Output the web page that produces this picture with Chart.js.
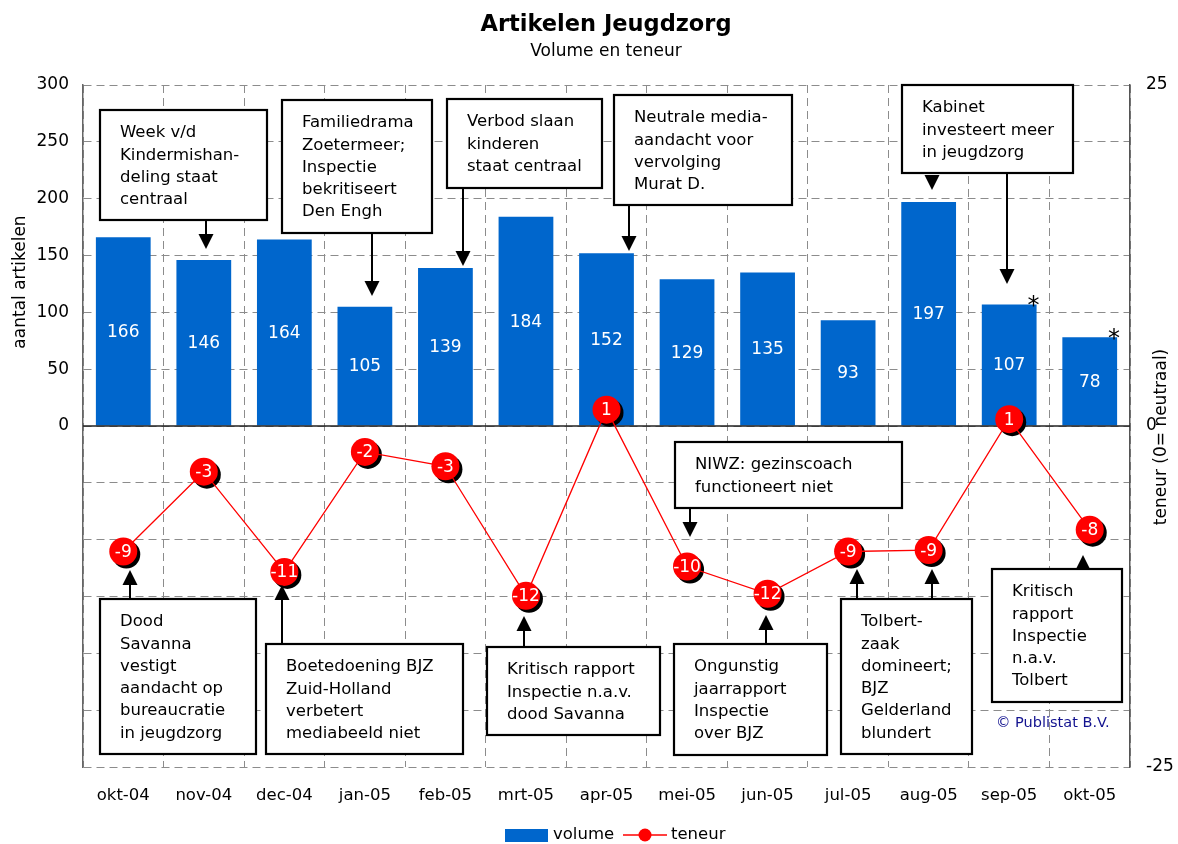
<!DOCTYPE html>
<html lang="nl">
<head>
<meta charset="UTF-8">
<title>Artikelen Jeugdzorg</title>
<script src="https://cdn.jsdelivr.net/npm/chart.js@4.4.0/dist/chart.umd.min.js"></script>
<style>
    html, body { margin: 0; padding: 0; background: #fff; }
    #wrap { width: 1178px; height: 844px; position: relative; }
</style>
</head>
<body>
<div id="wrap"><canvas id="chart"></canvas></div>
<script>
    const months = ['okt-04', 'nov-04', 'dec-04', 'jan-05', 'feb-05', 'mrt-05', 'apr-05',
                    'mei-05', 'jun-05', 'jul-05', 'aug-05', 'sep-05', 'okt-05'];
    const volume = [166, 146, 164, 105, 139, 184, 152, 129, 135, 93, 197, 107, 78];
    const teneur = [-9.2, -3.35, -10.7, -1.9, -2.95, -12.45, 1.2, -10.3, -12.3, -9.2, -9.1, 0.5, -7.6];
    const teneurLabels = ['-9', '-3', '-11', '-2', '-3', '-12', '1', '-10', '-12', '-9', '-9', '1', '-8'];
    const footnotes = ['', '', '', '', '', '', '', '', '', '', '', '*', '*'];
    const volumeTicks = [0, 50, 100, 150, 200, 250, 300];
    const teneurTicks = [-25, 0, 25];

    const FONT = "'DejaVu Sans', Verdana, sans-serif";
    const BLUE = '#0066cc';
    const RED = '#ff0000';

    // callout boxes: [x, y, w, h] in canvas pixels, arrows point at the marks
    const callouts = [
        { lines: ['Week v/d', 'Kindermishan-', 'deling staat', 'centraal'], box: [100, 110, 167, 110],
          arrows: [{ x: 206, from: 220, to: 249 }] },
        { lines: ['Familiedrama', 'Zoetermeer;', 'Inspectie', 'bekritiseert', 'Den Engh'], box: [282, 100, 150, 133],
          arrows: [{ x: 372, from: 233, to: 296 }] },
        { lines: ['Verbod slaan', 'kinderen', 'staat centraal'], box: [447, 99, 155, 89],
          arrows: [{ x: 463, from: 188, to: 266 }] },
        { lines: ['Neutrale media-', 'aandacht voor', 'vervolging', 'Murat D.'], box: [614, 95, 178, 110],
          arrows: [{ x: 629, from: 205, to: 251 }] },
        { lines: ['Kabinet', 'investeert meer', 'in jeugdzorg'], box: [902, 85, 171, 88],
          arrows: [{ x: 932, from: 175, to: 190 }, { x: 1007, from: 173, to: 284 }] },
        { lines: ['NIWZ: gezinscoach', 'functioneert niet'], box: [675, 442, 227, 66],
          arrows: [{ x: 690, from: 508, to: 537 }] },
        { lines: ['Dood', 'Savanna', 'vestigt', 'aandacht op', 'bureaucratie', 'in jeugdzorg'], box: [100, 599, 156, 155],
          arrows: [{ x: 130, from: 599, to: 570 }] },
        { lines: ['Boetedoening BJZ', 'Zuid-Holland', 'verbetert', 'mediabeeld niet'], box: [266, 644, 197, 110],
          arrows: [{ x: 282, from: 644, to: 585 }] },
        { lines: ['Kritisch rapport', 'Inspectie n.a.v.', 'dood Savanna'], box: [487, 647, 173, 88],
          arrows: [{ x: 524, from: 647, to: 616 }] },
        { lines: ['Ongunstig', 'jaarrapport', 'Inspectie', 'over BJZ'], box: [674, 644, 153, 111],
          arrows: [{ x: 766, from: 644, to: 615 }] },
        { lines: ['Tolbert-', 'zaak', 'domineert;', 'BJZ', 'Gelderland', 'blundert'], box: [841, 599, 131, 155],
          arrows: [{ x: 857, from: 599, to: 569 }, { x: 932, from: 599, to: 569 }] },
        { lines: ['Kritisch', 'rapport', 'Inspectie', 'n.a.v.', 'Tolbert'], box: [992, 569, 130, 133],
          arrows: [{ x: 1083, from: 569, to: 555 }] }
    ];

    function drawArrow(ctx, x, from, to) {
        const dir = to > from ? 1 : -1;
        const head = 15;
        ctx.lineWidth = 2;
        if (Math.abs(to - from) > head) {
            ctx.beginPath();
            ctx.moveTo(x, from);
            ctx.lineTo(x, to - dir * head);
            ctx.stroke();
        }
        ctx.beginPath();
        ctx.moveTo(x - 7.5, to - dir * head);
        ctx.lineTo(x + 7.5, to - dir * head);
        ctx.lineTo(x, to);
        ctx.closePath();
        ctx.fill();
    }

    const decorations = {
        id: 'decorations',
        beforeDatasetDraw(chart, args) {
            if (args.index !== 1) return;
            const ctx = chart.ctx;
            const area = chart.chartArea;
            const y0 = chart.scales.y.getPixelForValue(0);
            ctx.save();
            // solid zero line
            ctx.strokeStyle = '#222';
            ctx.lineWidth = 1.5;
            ctx.beginPath();
            ctx.moveTo(area.left, y0);
            ctx.lineTo(area.right, y0);
            ctx.stroke();
            // marker shadows
            ctx.fillStyle = '#000';
            args.meta.data.forEach(pt => {
                ctx.beginPath();
                ctx.arc(pt.x + 3, pt.y + 3, 14, 0, Math.PI * 2);
                ctx.fill();
            });
            ctx.restore();
        },
        afterDatasetDraw(chart, args) {
            const ctx = chart.ctx;
            ctx.save();
            ctx.textAlign = 'center';
            if (args.index === 0) {
                args.meta.data.forEach((bar, i) => {
                    ctx.fillStyle = '#fff';
                    ctx.font = '17px ' + FONT;
                    ctx.textBaseline = 'middle';
                    ctx.fillText(String(volume[i]), bar.x, (bar.y + bar.base) / 2 + 1);
                    if (footnotes[i]) {
                        ctx.fillStyle = '#000';
                        ctx.font = '24px ' + FONT;
                        ctx.textBaseline = 'alphabetic';
                        ctx.fillText(footnotes[i], bar.x + bar.width / 2 - 3, bar.y + 9);
                    }
                });
            } else {
                ctx.fillStyle = '#fff';
                ctx.font = '17px ' + FONT;
                ctx.textBaseline = 'middle';
                args.meta.data.forEach((pt, i) => {
                    ctx.fillText(teneurLabels[i], pt.x, pt.y + 1);
                });
            }
            ctx.restore();
        },
        afterDraw(chart) {
            const ctx = chart.ctx;
            ctx.save();
            ctx.fillStyle = '#000';
            ctx.textAlign = 'center';
            ctx.textBaseline = 'alphabetic';
            ctx.font = 'bold 22.5px ' + FONT;
            ctx.fillText('Artikelen Jeugdzorg', 606, 31);
            ctx.font = '17px ' + FONT;
            ctx.fillText('Volume en teneur', 606, 56);

            // axis titles
            ctx.textBaseline = 'middle';
            ctx.save();
            ctx.translate(21, 282);
            ctx.rotate(-Math.PI / 2);
            ctx.fillText('aantal artikelen', 0, 0);
            ctx.restore();
            ctx.save();
            ctx.translate(1162, 437);
            ctx.rotate(-Math.PI / 2);
            ctx.fillText('teneur (0= neutraal)', 0, 0);
            ctx.restore();

            // callouts
            ctx.textAlign = 'left';
            ctx.font = '16.5px ' + FONT;
            callouts.forEach(c => {
                const [x, y, w, h] = c.box;
                ctx.fillStyle = '#fff';
                ctx.fillRect(x, y, w, h);
                ctx.strokeStyle = '#000';
                ctx.lineWidth = 2.2;
                ctx.strokeRect(x, y, w, h);
                ctx.fillStyle = '#000';
                c.lines.forEach((line, i) => ctx.fillText(line, x + 20, y + 23 + i * 22.3));
                c.arrows.forEach(a => drawArrow(ctx, a.x, a.from, a.to));
            });

            ctx.fillStyle = '#12128f';
            ctx.font = '14.5px ' + FONT;
            ctx.fillText('\u00a9 Publistat B.V.', 996, 723);

            // legend
            ctx.fillStyle = BLUE;
            ctx.fillRect(505, 829, 43, 13);
            ctx.fillStyle = '#000';
            ctx.font = '16.5px ' + FONT;
            ctx.fillText('volume', 553, 835);
            ctx.strokeStyle = RED;
            ctx.lineWidth = 1.3;
            ctx.beginPath();
            ctx.moveTo(623, 835);
            ctx.lineTo(667, 835);
            ctx.stroke();
            ctx.fillStyle = RED;
            ctx.beginPath();
            ctx.arc(645, 835, 6.5, 0, Math.PI * 2);
            ctx.fill();
            ctx.fillStyle = '#000';
            ctx.fillText('teneur', 671, 835);
            ctx.restore();
        }
    };

    Chart.defaults.font.family = FONT;
    Chart.defaults.color = '#000';

    new Chart(document.getElementById('chart'), {
        data: {
            labels: months,
            datasets: [{
                type: 'bar',
                label: 'volume',
                data: volume,
                yAxisID: 'y',
                backgroundColor: BLUE,
                barPercentage: 0.68,
                categoryPercentage: 1.0,
                order: 1
            }, {
                type: 'line',
                label: 'teneur',
                data: teneur,
                yAxisID: 'y2',
                borderColor: RED,
                borderWidth: 1.3,
                tension: 0,
                pointRadius: 14,
                pointHoverRadius: 14,
                pointBackgroundColor: RED,
                pointBorderColor: RED,
                pointBorderWidth: 0,
                order: 0
            }]
        },
        options: {
            responsive: true,
            maintainAspectRatio: false,
            animation: false,
            events: [],
            layout: { padding: { top: 85, left: 0, right: 0, bottom: 0 } },
            plugins: {
                legend: { display: false },
                title: { display: false },
                tooltip: { enabled: false }
            },
            scales: {
                x: {
                    afterFit: s => { s.height = 77; },
                    grid: { color: '#8c8c8c', lineWidth: 1, drawTicks: false, offset: true },
                    border: { display: false, dash: [8, 5] },
                    ticks: { font: { size: 16.5 }, color: '#000', padding: 19, maxRotation: 0 }
                },
                y: {
                    position: 'left',
                    min: -300,
                    max: 300,
                    afterFit: s => { s.width = 83; },
                    grid: { color: '#8c8c8c', lineWidth: 1, drawTicks: false },
                    border: { display: true, color: '#666', width: 1.5, dash: [8, 5] },
                    ticks: {
                        stepSize: 50,
                        padding: 14,
                        font: { size: 17 },
                        color: '#000',
                        callback: v => volumeTicks.includes(v) ? String(v) : ''
                    }
                },
                y2: {
                    position: 'right',
                    min: -25,
                    max: 25,
                    afterFit: s => { s.width = 48; },
                    afterBuildTicks: s => { s.ticks = teneurTicks.map(v => ({ value: v })); },
                    grid: { display: false, drawTicks: false },
                    border: { display: true, color: '#555', width: 1.5 },
                    ticks: { padding: 16, font: { size: 17 }, color: '#000' }
                }
            }
        },
        plugins: [decorations]
    });
</script>
</body>
</html>
